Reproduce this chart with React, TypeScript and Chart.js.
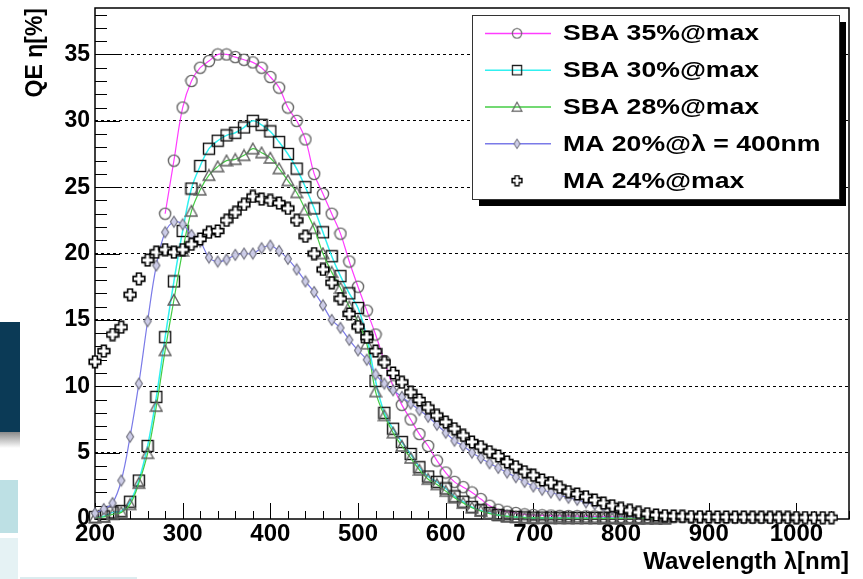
import React, { useEffect, useRef } from 'react';
import { Chart, registerables } from 'chart.js';

Chart.register(...registerables);

// ---------- data ----------
const LAMBDA_SBA35 = [
  280, 290,
  300, 310, 320, 330, 340, 350, 360, 370, 380, 390,
  400, 410, 420, 430, 440, 450, 460, 470, 480, 490,
  500, 510, 520, 530, 540, 550, 560, 570, 580, 590,
  600, 610, 620, 630, 640, 650, 660, 670, 680, 690,
  700, 710, 720, 730, 740, 750, 760, 770, 780, 790,
  800, 810, 820, 830, 840, 850, 860, 870, 880, 890,
  900, 910, 920, 930, 940, 950, 960, 970, 980, 990,
  1000,
];
const QE_SBA35 = [
  23.0, 27.0,
  31.0, 33.0, 34.0, 34.5, 35.0, 35.0, 34.8, 34.6, 34.4, 34.0,
  33.3, 32.5, 31.0, 30.0, 28.6, 26.0, 24.5, 23.0, 21.5, 19.4,
  17.5, 15.7, 13.9, 11.9, 10.0, 8.6, 7.5, 6.4, 5.5, 4.4,
  3.5, 2.8, 2.4, 2.0, 1.5, 1.0, 0.7, 0.55, 0.45, 0.35,
  0.3, 0.28, 0.26, 0.24, 0.22, 0.21, 0.2, 0.19, 0.18, 0.17,
  0.16, 0.16, 0.15, 0.15, 0.14, 0.14, 0.13, 0.13, 0.12, 0.12,
  0.12, 0.11, 0.11, 0.11, 0.1, 0.1, 0.1, 0.1, 0.1, 0.1,
  0.1,
];

const LAMBDA_SBA = [
  200, 210, 220, 230, 240, 250, 260, 270, 280, 290,
  300, 310, 320, 330, 340, 350, 360, 370, 380, 390,
  400, 410, 420, 430, 440, 450, 460, 470, 480, 490,
  500, 510, 520, 530, 540, 550, 560, 570, 580, 590,
  600, 610, 620, 630, 640, 650, 660, 670, 680, 690,
  700, 710, 720, 730, 740, 750, 760, 770, 780, 790,
  800, 810, 820, 830, 840, 850,
];
const QE_SBA30 = [
  0.15, 0.2, 0.5, 0.6, 1.3, 2.9, 5.5, 9.2, 13.7, 17.9,
  21.7, 24.9, 26.6, 27.9, 28.5, 28.9, 29.1, 29.5, 30.0, 29.7,
  29.2, 28.4, 27.5, 26.4, 25.0, 23.4, 21.6, 19.8, 18.3, 17.0,
  15.9, 13.7, 10.4, 8.0, 6.8, 5.8, 4.9, 3.9, 3.2, 2.8,
  2.3, 1.7, 1.3, 0.9, 0.65, 0.45, 0.3, 0.2, 0.15, 0.12,
  0.1, 0.1, 0.1, 0.09, 0.09, 0.08, 0.08, 0.08, 0.07, 0.07,
  0.07, 0.06, 0.06, 0.06, 0.05, 0.05,
];
const QE_SBA28 = [
  0.1, 0.15, 0.35, 0.5, 1.1, 2.7, 4.95, 8.5, 12.7, 16.5,
  20.2, 23.2, 24.8, 25.9, 26.55, 27.0, 27.1, 27.4, 27.9, 27.6,
  27.2, 26.4, 25.5, 24.6, 23.3, 21.9, 20.0, 18.6, 17.4, 16.0,
  14.9, 13.2, 9.6, 7.8, 6.5, 5.5, 4.6, 3.7, 3.0, 2.6,
  2.1, 1.6, 1.2, 0.85, 0.6, 0.4, 0.3, 0.2, 0.15, 0.1,
  0.08, 0.08, 0.07, 0.07, 0.06, 0.06, 0.06, 0.05, 0.05, 0.05,
  0.05, 0.04, 0.04, 0.04, 0.04, 0.04,
];

const LAMBDA_MA = [
  200, 210, 220, 230, 240, 250, 260, 270, 280, 290,
  300, 310, 320, 330, 340, 350, 360, 370, 380, 390,
  400, 410, 420, 430, 440, 450, 460, 470, 480, 490,
  500, 510, 520, 530, 540, 550, 560, 570, 580, 590,
  600, 610, 620, 630, 640, 650, 660, 670, 680, 690,
  700, 710, 720, 730, 740, 750, 760, 770, 780, 790,
  800, 810, 820, 830, 840, 850, 860, 870, 880, 890,
  900, 910, 920, 930, 940, 950, 960, 970, 980, 990,
  1000, 1010, 1020, 1030, 1040,
];
const QE_MA20 = [
  0.43, 0.75, 1.2, 2.9, 6.2, 10.2, 14.9, 19.1, 21.6, 22.4,
  22.2, 21.4, 20.9, 19.7, 19.4, 19.55, 19.9, 20.0, 20.0, 20.4,
  20.6, 20.2, 19.6, 18.8, 17.9, 17.1, 16.1, 15.0, 14.4, 13.5,
  12.7, 12.0, 10.9, 10.2, 9.7, 9.2, 8.7, 8.2, 7.7, 7.1,
  6.5, 5.9, 5.5, 5.0, 4.6, 4.2, 3.85, 3.5, 3.15, 2.8,
  2.45, 2.2, 2.0, 1.8, 1.6, 1.45, 1.25, 1.1, 0.95, 0.75,
  0.6, 0.5, 0.4, 0.35, 0.3, 0.25, 0.22, 0.2, 0.18, 0.16,
  0.15, 0.14, 0.14, 0.13, 0.13, 0.12, 0.12, 0.12, 0.11, 0.11,
  0.11, 0.1, 0.1, 0.1, 0.1,
];
const QE_MA24 = [
  11.85, 12.65, 13.9, 14.45, 16.9, 18.1, 19.5, 20.1, 20.3, 20.1,
  20.3, 20.7, 21.1, 21.6, 21.7, 22.5, 23.1, 23.7, 24.3, 24.1,
  24.0, 23.8, 23.4, 22.5, 21.3, 20.0, 18.8, 17.8, 16.6, 15.45,
  14.5, 13.7, 12.65, 11.8, 11.0, 10.3, 9.55, 8.97, 8.4, 7.8,
  7.3, 6.8, 6.3, 5.8, 5.45, 5.07, 4.75, 4.3, 3.94, 3.56,
  3.3, 2.94, 2.74, 2.39, 2.06, 1.88, 1.68, 1.43, 1.2, 1.0,
  0.8, 0.65, 0.5, 0.4, 0.3, 0.25, 0.22, 0.2, 0.18, 0.17,
  0.16, 0.15, 0.15, 0.14, 0.14, 0.13, 0.13, 0.12, 0.12, 0.12,
  0.11, 0.11, 0.1, 0.1, 0.1,
];

const LEGEND_LABELS = [
  'SBA 35%@max',
  'SBA 30%@max',
  'SBA 28%@max',
  'MA 20%@λ = 400nm',
  'MA 24%@max',
];

const X_TICKS = [200, 300, 400, 500, 600, 700, 800, 900, 1000];
const Y_TICKS = [0, 5, 10, 15, 20, 25, 30, 35];

// ---------- styling ----------
const FONT = '"Liberation Sans", Arial, Helvetica, sans-serif';

function makeMarker(kind: string): HTMLCanvasElement {
  const c = document.createElement('canvas');
  const w = kind === 'diamond' ? 10 : 14;
  const h = 14;
  c.width = w;
  c.height = h;
  const g = c.getContext('2d') as CanvasRenderingContext2D;
  const mx = w / 2;
  const my = h / 2;
  g.lineJoin = 'miter';
  if (kind === 'circle') {
    g.strokeStyle = '#666666';
    g.lineWidth = 1.4;
    g.beginPath();
    g.arc(mx, my, 5.6, 0, Math.PI * 2);
    g.stroke();
  } else if (kind === 'square') {
    g.strokeStyle = '#111111';
    g.lineWidth = 1.4;
    g.strokeRect(1.5, 1.5, 11, 11);
  } else if (kind === 'triangle') {
    g.strokeStyle = '#606060';
    g.lineWidth = 1.4;
    g.beginPath();
    g.moveTo(mx, 1.5);
    g.lineTo(12.8, 12);
    g.lineTo(1.2, 12);
    g.closePath();
    g.stroke();
  } else if (kind === 'diamond') {
    g.fillStyle = 'rgba(206,206,232,0.95)';
    g.strokeStyle = '#70707e';
    g.lineWidth = 1.2;
    g.beginPath();
    g.moveTo(mx, 1.5);
    g.lineTo(w - 1.5, my);
    g.lineTo(mx, h - 1.5);
    g.lineTo(1.5, my);
    g.closePath();
    g.fill();
    g.stroke();
  } else if (kind === 'cross') {
    const a = 2.4;
    const b = 5.8;
    g.fillStyle = '#ffffff';
    g.strokeStyle = '#000000';
    g.lineWidth = 1.6;
    g.beginPath();
    g.moveTo(mx - a, my - b);
    g.lineTo(mx + a, my - b);
    g.lineTo(mx + a, my - a);
    g.lineTo(mx + b, my - a);
    g.lineTo(mx + b, my + a);
    g.lineTo(mx + a, my + a);
    g.lineTo(mx + a, my + b);
    g.lineTo(mx - a, my + b);
    g.lineTo(mx - a, my + a);
    g.lineTo(mx - b, my + a);
    g.lineTo(mx - b, my - a);
    g.lineTo(mx - a, my - a);
    g.closePath();
    g.fill();
    g.stroke();
  }
  return c;
}

const toPoints = (xs: number[], ys: number[]) => xs.map((x, i) => ({ x, y: ys[i] }));

export default function App() {
  const ref = useRef<HTMLCanvasElement | null>(null);

  useEffect(() => {
    if (!ref.current) return;
    const markers = {
      circle: makeMarker('circle'),
      square: makeMarker('square'),
      triangle: makeMarker('triangle'),
      diamond: makeMarker('diamond'),
      cross: makeMarker('cross'),
    };
    const legendMarkers = [markers.circle, markers.square, markers.triangle, markers.diamond, markers.cross];
    const legendLines = ['#ff3cff', '#30f0f0', '#44cc44', '#7a7ae8', null];

    const frameTicks = {
      id: 'frameTicks',
      beforeDatasetsDraw(chart: any) {
        const { ctx, chartArea: a, scales } = chart;
        const xs = scales.x;
        const ys = scales.y;
        ctx.save();
        ctx.strokeStyle = '#000';
        ctx.lineWidth = 1;
        ctx.beginPath();
        for (let v = 0; v <= 38; v++) {
          const y = Math.round(ys.getPixelForValue(v)) + 0.5;
          const len = v % 5 === 0 ? 25 : 12;
          ctx.moveTo(a.left, y);
          ctx.lineTo(a.left + len, y);
        }
        for (let l = 200; l <= 1060; l += 20) {
          const x = Math.round(xs.getPixelForValue(l)) + 0.5;
          const len = l % 100 === 0 ? 16 : 8;
          ctx.moveTo(x, a.bottom);
          ctx.lineTo(x, a.bottom - len);
        }
        ctx.stroke();
        ctx.lineWidth = 1.5;
        ctx.strokeRect(a.left, a.top, a.right - a.left, a.bottom - a.top);
        ctx.restore();
      },
    };

    const rootLegend = {
      id: 'rootLegend',
      afterDraw(chart: any) {
        const ctx = chart.ctx as CanvasRenderingContext2D;
        const L = 472;
        const T = 15;
        const R = 839;
        const B = 199;
        ctx.save();
        ctx.fillStyle = '#000';
        ctx.fillRect(L + 7, T + 7, R - L, B - T);
        ctx.fillStyle = '#fff';
        ctx.fillRect(L, T, R - L, B - T);
        ctx.strokeStyle = '#333';
        ctx.lineWidth = 1;
        ctx.strokeRect(L + 0.5, T + 0.5, R - L, B - T);
        const rowH = (B - T) / LEGEND_LABELS.length;
        LEGEND_LABELS.forEach((label, i) => {
          const y = T + rowH * (i + 0.5);
          const col = legendLines[i];
          if (col) {
            ctx.strokeStyle = col;
            ctx.lineWidth = 1.5;
            ctx.beginPath();
            ctx.moveTo(485, y);
            ctx.lineTo(551, y);
            ctx.stroke();
          }
          const m = legendMarkers[i];
          const sw = m.width * 0.85;
          const sh = m.height * 0.85;
          ctx.drawImage(m, 517 - sw / 2, y - sh / 2, sw, sh);
          ctx.save();
          ctx.translate(563, y + 1);
          ctx.scale(1.21, 1);
          ctx.fillStyle = '#000';
          ctx.font = `bold 22px ${FONT}`;
          ctx.textBaseline = 'middle';
          ctx.textAlign = 'left';
          ctx.fillText(label, 0, 0);
          ctx.restore();
        });
        ctx.restore();
      },
    };

    const common = { tension: 0.4, fill: false, clip: false as any, pointRadius: 6 };

    const chart = new Chart(ref.current, {
      type: 'line',
      data: {
        datasets: [
          {
            ...common,
            label: LEGEND_LABELS[0],
            data: toPoints(LAMBDA_SBA35, QE_SBA35),
            borderColor: '#ff3cff',
            borderWidth: 1.2,
            pointStyle: markers.circle as any,
            order: 5,
          },
          {
            ...common,
            label: LEGEND_LABELS[1],
            data: toPoints(LAMBDA_SBA, QE_SBA30),
            borderColor: '#30f0f0',
            borderWidth: 1.5,
            pointStyle: markers.square as any,
            order: 4,
          },
          {
            ...common,
            label: LEGEND_LABELS[2],
            data: toPoints(LAMBDA_SBA, QE_SBA28),
            borderColor: '#44cc44',
            borderWidth: 1.2,
            pointStyle: markers.triangle as any,
            order: 3,
          },
          {
            ...common,
            label: LEGEND_LABELS[3],
            data: toPoints(LAMBDA_MA, QE_MA20),
            borderColor: '#7a7ae8',
            borderWidth: 1.2,
            pointStyle: markers.diamond as any,
            order: 2,
          },
          {
            ...common,
            label: LEGEND_LABELS[4],
            data: toPoints(LAMBDA_MA, QE_MA24),
            borderColor: '#000',
            showLine: false,
            pointStyle: markers.cross as any,
            order: 1,
          },
        ],
      },
      options: {
        animation: false,
        responsive: false,
        events: [],
        layout: { padding: { top: 8, right: 14, left: 0, bottom: 0 } },
        plugins: {
          legend: { display: false },
          tooltip: { enabled: false },
        },
        scales: {
          x: {
            type: 'linear',
            min: 200,
            max: 1060,
            afterBuildTicks: (s: any) => {
              s.ticks = X_TICKS.map((v) => ({ value: v }));
            },
            afterFit: (s: any) => {
              s.height = 60;
              s.paddingLeft = 0;
              s.paddingRight = 0;
            },
            grid: { display: false, drawTicks: false },
            border: { display: false },
            ticks: {
              color: '#000',
              font: { family: FONT, weight: 'bold', size: 24 },
              padding: 1,
              maxRotation: 0,
              autoSkip: false,
              callback: (v: any) => String(v),
            },
            title: {
              display: true,
              text: 'Wavelength λ[nm]',
              align: 'end',
              color: '#000',
              font: { family: FONT, weight: 'bold', size: 24 },
              padding: { top: 0, bottom: 2 },
            },
          },
          y: {
            type: 'linear',
            min: 0,
            max: 38.5,
            afterBuildTicks: (s: any) => {
              s.ticks = Y_TICKS.map((v) => ({ value: v }));
            },
            afterFit: (s: any) => {
              s.width = 95;
              s.paddingTop = 0;
              s.paddingBottom = 0;
            },
            grid: {
              drawTicks: false,
              lineWidth: 1,
              color: (c: any) => (c.tick && c.tick.value === 0 ? 'rgba(0,0,0,0)' : '#000'),
            },
            border: { display: false, dash: [3, 3] },
            ticks: {
              color: '#000',
              font: { family: FONT, weight: 'bold', size: 23 },
              padding: 5,
              callback: (v: any) => String(v),
            },
            title: {
              display: true,
              text: 'QE η[%]',
              align: 'end',
              color: '#000',
              font: { family: FONT, weight: 'bold', size: 23 },
              padding: { top: 22, bottom: 0 },
            },
          },
        },
      } as any,
      plugins: [frameTicks, rootLegend],
    });
    return () => chart.destroy();
  }, []);

  return (
    <div style={{ position: 'absolute', left: 0, top: 0, width: 863, height: 579, background: '#fff' }}>
      <div style={{ position: 'absolute', left: 0, top: 322, width: 20, height: 110, background: '#0b3a56' }} />
      <div
        style={{
          position: 'absolute',
          left: 0,
          top: 432,
          width: 20,
          height: 16,
          background: 'linear-gradient(#8a8a8a, #ffffff)',
        }}
      />
      <div style={{ position: 'absolute', left: 0, top: 480, width: 18, height: 53, background: '#bde0e4' }} />
      <div style={{ position: 'absolute', left: 0, top: 538, width: 18, height: 41, background: '#e5f2f4' }} />
      <div style={{ position: 'absolute', left: 20, top: 577, width: 117, height: 2, background: '#dcecef' }} />
      <canvas ref={ref} width={863} height={579} style={{ position: 'absolute', left: 0, top: 0, display: 'block' }} />
    </div>
  );
}
